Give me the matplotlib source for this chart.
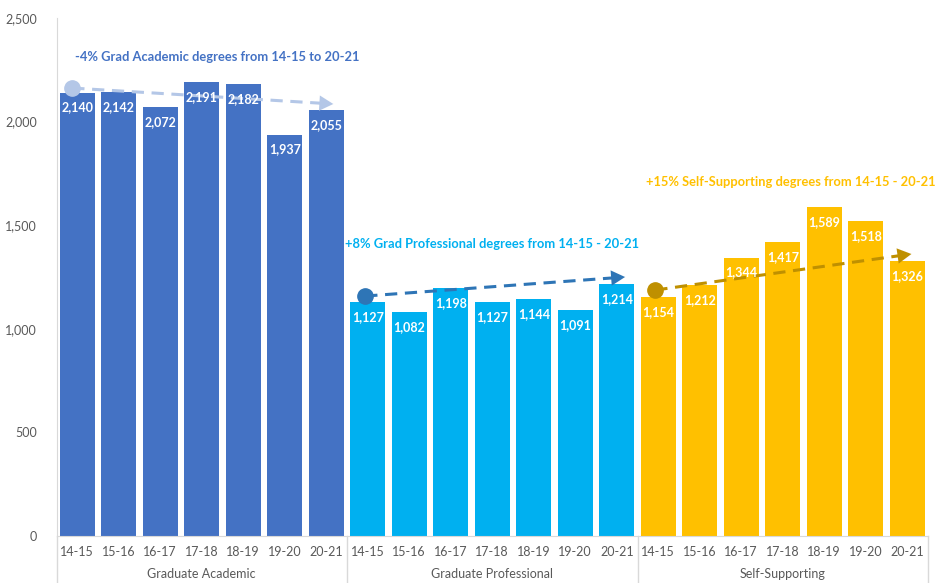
import matplotlib
matplotlib.use("Agg")
import matplotlib.pyplot as plt
from matplotlib.ticker import FuncFormatter

plt.rcParams['font.family'] = ['Lato', 'DejaVu Sans']

years = ["14-15", "15-16", "16-17", "17-18", "18-19", "19-20", "20-21"]
groups = ["Graduate Academic", "Graduate Professional", "Self-Supporting"]
grad_academic = [2140, 2142, 2072, 2191, 2182, 1937, 2055]
grad_professional = [1127, 1082, 1198, 1127, 1144, 1091, 1214]
self_supporting = [1154, 1212, 1344, 1417, 1589, 1518, 1326]
colors = ["#4472C4", "#00B0F0", "#FFC000"]
trend_colors = ["#B4C7E7", "#2E75B6", "#BF9000"]
trend_text_colors = ["#4472C4", "#00B0F0", "#FFC000"]
trend_texts = ["-4% Grad Academic degrees from 14-15 to 20-21",
               "+8% Grad Professional degrees from 14-15 - 20-21",
               "+15% Self-Supporting degrees from 14-15 - 20-21"]
# trend arrow start/end (category index, value)
trend_start = [(-0.12, 2162), (6.94, 1158), (13.93, 1187)]
trend_end = [(6.17, 2085), (13.2, 1250), (20.1, 1361)]
text_pos = [(-0.05, 2310), (6.45, 1410), (13.7, 1710)]

series = [grad_academic, grad_professional, self_supporting]

fig = plt.figure(figsize=(9.4, 5.83), dpi=100)
ax = fig.add_axes([56.5/940, 47/583, (928-56.5)/940, (536-18)/583])

n = len(years)
for g, vals in enumerate(series):
    xs = [g*n + i for i in range(n)]
    ax.bar(xs, vals, width=0.84, color=colors[g], zorder=2)
    for x, v in zip(xs, vals):
        ax.text(x, v - 72, f"{v:,}", ha='center', va='center', color='white',
                fontsize=9, fontweight='bold', zorder=5)

for g in range(3):
    (x0, y0), (x1, y1) = trend_start[g], trend_end[g]
    c = trend_colors[g]
    fx = x0 + (x1 - x0) * 0.96
    fy = y0 + (y1 - y0) * 0.96
    ax.plot([x0, fx], [y0, fy], linestyle=(0, (4, 2.5)), lw=2.2, color=c, zorder=4)
    ax.plot([x0], [y0], marker='o', markersize=11, color=c, zorder=4)
    ax.annotate("", xy=(x1, y1), xytext=(x0 + (x1 - x0) * 0.9, y0 + (y1 - y0) * 0.9),
                arrowprops=dict(arrowstyle='-|>,head_length=1.0,head_width=0.55',
                                color=c, lw=0.01, shrinkA=0, shrinkB=0), zorder=4)
    ax.text(text_pos[g][0], text_pos[g][1], trend_texts[g], color=trend_text_colors[g],
            fontsize=9.3, fontweight='bold', ha='left', va='center', zorder=5)

ax.set_xlim(-0.5, 3*n - 0.5)
ax.set_ylim(0, 2500)
ax.set_yticks(range(0, 2501, 500))
ax.yaxis.set_major_formatter(FuncFormatter(lambda v, p: f"{int(v):,}"))
ax.set_xticks(range(3*n))
ax.set_xticklabels(years * 3)
ax.tick_params(axis='both', length=0, labelsize=9, colors='#595959')
ax.tick_params(axis='x', pad=7)
ax.tick_params(axis='y', pad=14)

for s in ['top', 'right']:
    ax.spines[s].set_visible(False)
ax.spines['left'].set_color('#D9D9D9')
ax.spines['bottom'].set_color('#D9D9D9')

trans = ax.get_xaxis_transform()
for b in [-0.5, n - 0.5, 2*n - 0.5, 3*n - 0.5]:
    ax.plot([b, b], [0, -0.1], transform=trans, color='#D9D9D9', lw=1, clip_on=False)
for g in range(3):
    ax.text(g*n + (n - 1)/2, -0.074, groups[g], transform=trans, ha='center', va='center',
            fontsize=9, color='#595959')

fig.savefig("out.png", dpi=100)
